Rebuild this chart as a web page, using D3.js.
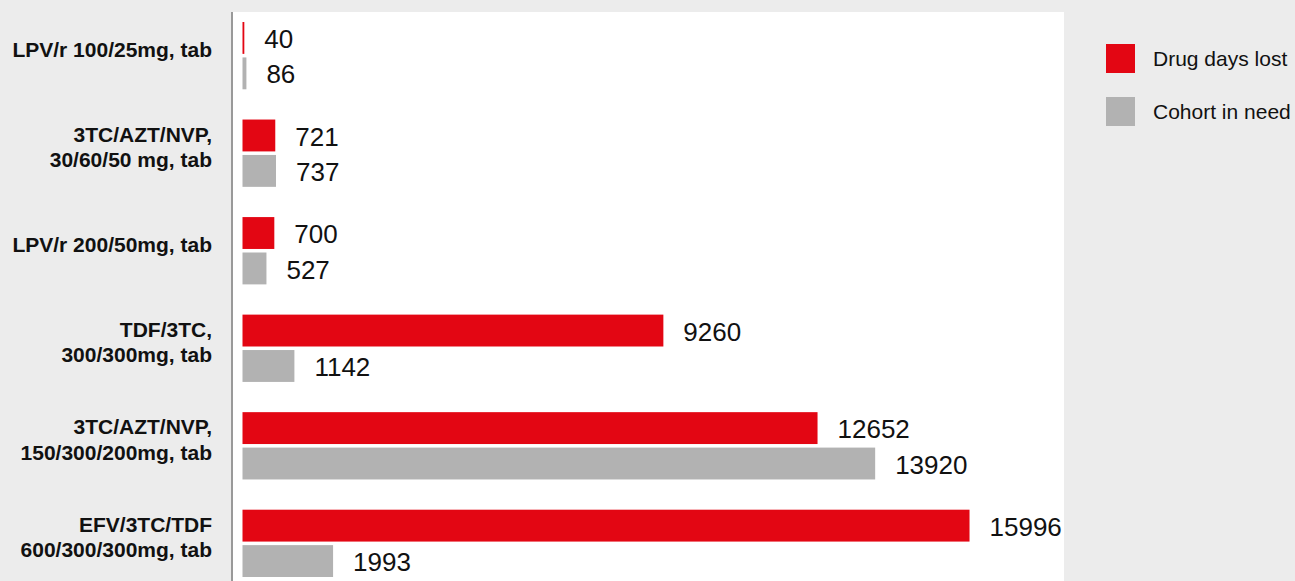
<!DOCTYPE html>
<html>
<head>
<meta charset="utf-8">
<script src="https://cdn.jsdelivr.net/npm/d3@7/dist/d3.min.js"></script>
<style>
  html, body { margin: 0; padding: 0; background: #ececec; }
  svg { display: block; font-family: "Liberation Sans", Arial, Helvetica, sans-serif; }
</style>
</head>
<body>
<svg id="chart" width="1295" height="581"></svg>
<script>
// ---- Data ----
const categories = [
  "LPV/r 100/25mg, tab",
  "3TC/AZT/NVP,\n30/60/50 mg, tab",
  "LPV/r 200/50mg, tab",
  "TDF/3TC,\n300/300mg, tab",
  "3TC/AZT/NVP,\n150/300/200mg, tab",
  "EFV/3TC/TDF\n600/300/300mg, tab"
];
const drugDaysLost = [40, 721, 700, 9260, 12652, 15996];
const cohortInNeed = [86, 737, 527, 1142, 13920, 1993];
const seriesNames = ["Drug days lost", "Cohort in need"];
const seriesColors = ["#e30613", "#b2b2b2"];

// ---- Layout ----
const W = 1295, H = 581;
const plot = { left: 233, right: 1064, top: 12, bottom: 581 };
const svg = d3.select("#chart");

svg.append("rect").attr("x", 0).attr("y", 0).attr("width", W).attr("height", H).attr("fill", "#ececec");
svg.append("rect")
  .attr("x", plot.left).attr("y", plot.top)
  .attr("width", plot.right - plot.left).attr("height", plot.bottom - plot.top)
  .attr("fill", "#ffffff");

const x = d3.scaleLinear().domain([0, 16000]).range([242.5, 969.7]);
const y = d3.scaleBand().domain(categories).range([22, 577]).paddingInner(0.31).paddingOuter(0);
const ySub = d3.scaleBand().domain(seriesNames).range([0, y.bandwidth()]).paddingInner(0.1);

const rows = categories.map((c, i) => ({ cat: c, vals: [drugDaysLost[i], cohortInNeed[i]] }));

const g = svg.append("g");
const groups = g.selectAll("g.row").data(rows).join("g")
  .attr("class", "row")
  .attr("transform", d => `translate(0,${y(d.cat)})`);

groups.selectAll("rect").data(d => d.vals.map((v, k) => ({ v, k }))).join("rect")
  .attr("x", x(0))
  .attr("y", d => ySub(seriesNames[d.k]))
  .attr("width", d => x(d.v) - x(0))
  .attr("height", ySub.bandwidth())
  .attr("fill", d => seriesColors[d.k]);

groups.selectAll("text.val").data(d => d.vals.map((v, k) => ({ v, k }))).join("text")
  .attr("class", "val")
  .attr("x", d => x(d.v) + 20)
  .attr("y", d => ySub(seriesNames[d.k]) + ySub.bandwidth() / 2 + 1)
  .attr("dy", "0.35em")
  .attr("font-size", 26)
  .attr("fill", "#111")
  .text(d => d.v);

// Category labels
const labels = g.selectAll("text.cat").data(categories).join("text")
  .attr("class", "cat")
  .attr("text-anchor", "end")
  .attr("font-size", 21)
  .attr("font-weight", "bold")
  .attr("fill", "#111");
labels.each(function(c) {
  const lines = c.split("\n");
  const lh = 25.5;
  const cy = y(c) + y.bandwidth() / 2 - 6;
  const t = d3.select(this);
  lines.forEach((ln, i) => {
    t.append("tspan")
      .attr("x", 212)
      .attr("y", cy + (i - (lines.length - 1) / 2) * lh)
      .attr("dy", "0.35em")
      .text(ln);
  });
});

// Axis line
svg.append("line")
  .attr("x1", 232).attr("x2", 232)
  .attr("y1", plot.top).attr("y2", H)
  .attr("stroke", "#999").attr("stroke-width", 2);

// Legend
const legend = svg.append("g").attr("transform", "translate(1106,44)");
const li = legend.selectAll("g").data(seriesNames).join("g")
  .attr("transform", (d, i) => `translate(0,${i * 53})`);
li.append("rect").attr("width", 29).attr("height", 29).attr("fill", (d, i) => seriesColors[i]);
li.append("text").attr("x", 47).attr("y", 14.5).attr("dy", "0.35em")
  .attr("font-size", 21).attr("fill", "#111").text(d => d);
</script>
</body>
</html>
